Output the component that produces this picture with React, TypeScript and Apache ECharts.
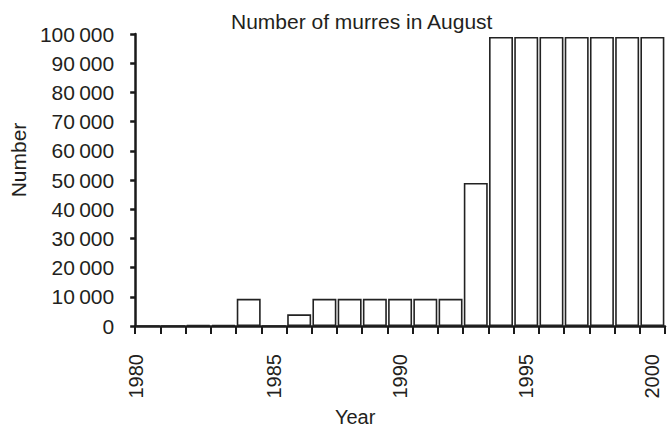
import React, { useEffect, useRef } from "react";
import * as echarts from "echarts";

const years: string[] = [
  "1980", "1981", "1982", "1983", "1984", "1985", "1986", "1987", "1988", "1989", "1990",
  "1991", "1992", "1993", "1994", "1995", "1996", "1997", "1998", "1999", "2000",
];
const murres: number[] = [
  0, 0, 300, 300, 9300, 0, 4000, 9300, 9300, 9300, 9300,
  9300, 9300, 49000, 99000, 99000, 99000, 99000, 99000, 99000, 99000,
];
const titleText = "Number of murres in August";
const xName = "Year";
const yName = "Number";

const FONT = "'Liberation Sans', Arial, sans-serif";
const TEXT = "#231f20";

function fmtNum(v: number): string {
  if (v === 0) return "0";
  const s = String(v);
  return s.slice(0, s.length - 3) + "\u2009" + s.slice(s.length - 3);
}

export default function App() {
  const ref = useRef<HTMLDivElement>(null);
  useEffect(() => {
    if (!ref.current) return;
    const chart = echarts.init(ref.current, undefined, { renderer: "svg" });
    chart.setOption({
      animation: false,
      backgroundColor: "#ffffff",
      title: {
        text: titleText,
        left: 226,
        top: 6,
        textStyle: { fontFamily: FONT, fontSize: 21, fontWeight: "normal", color: TEXT },
      },
      grid: { left: 131, right: 6, top: 34, bottom: 103, containLabel: false },
      xAxis: {
        type: "category",
        data: years,
        boundaryGap: true,
        name: xName,
        nameLocation: "middle",
        nameGap: 81,
        nameTextStyle: { fontFamily: FONT, fontSize: 20, color: TEXT, padding: [0, 90, 0, 0] },
        axisLine: { show: true, lineStyle: { color: "#1a1a1a", width: 2.5 } },
        axisTick: { show: true, interval: 0, length: 8, inside: false, lineStyle: { color: "#1a1a1a", width: 2 } },
        axisLabel: {
          interval: 4,
          rotate: 90,
          margin: 28,
          fontFamily: FONT,
          fontSize: 20,
          color: TEXT,
          formatter: (v: string, i: number) => (i === 0 ? "{s|" + v + "}" : v),
          rich: { s: { fontFamily: FONT, fontSize: 20, color: TEXT, padding: [0, 0, 24, 0] } },
        },
        splitLine: { show: false },
      },
      yAxis: {
        type: "value",
        min: 0,
        max: 100000,
        interval: 10000,
        name: yName,
        nameLocation: "middle",
        nameGap: 94,
        nameTextStyle: { fontFamily: FONT, fontSize: 21, color: TEXT, padding: [0, 0, 0, 40] },
        axisLine: { show: true, lineStyle: { color: "#1a1a1a", width: 2.5 } },
        axisTick: { show: true, length: 5, lineStyle: { color: "#1a1a1a", width: 2.5 } },
        axisLabel: {
          margin: 21,
          fontFamily: FONT,
          fontSize: 21,
          color: TEXT,
          formatter: (v: number) => fmtNum(v),
        },
        splitLine: { show: false },
      },
      series: [
        {
          type: "bar",
          data: murres,
          barCategoryGap: "5%",
          itemStyle: { color: "#ffffff", borderColor: "#222222", borderWidth: 1.6 },
        },
      ],
    });
    return () => chart.dispose();
  }, []);
  return <div ref={ref} style={{ position: "fixed", left: 0, top: 0, width: 671, height: 432 }} />;
}
